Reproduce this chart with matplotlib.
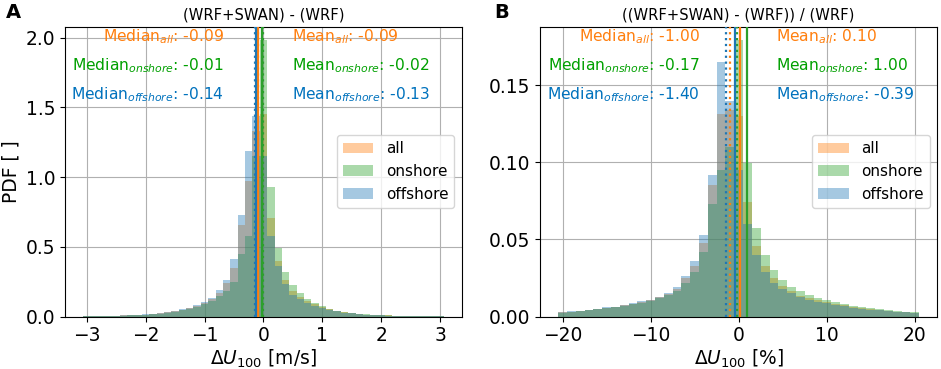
import numpy as np
import matplotlib
matplotlib.use("Agg")
import matplotlib.pyplot as plt

# ---------------- data ----------------
# Panel A: absolute difference, bins centred on multiples of 0.125 m/s
a_width = 0.125
a_centers = np.arange(-24, 25) * a_width
a_offshore = [0.002, 0.003, 0.004, 0.005, 0.006, 0.008, 0.010, 0.013,
              0.016, 0.021, 0.026, 0.033, 0.040, 0.052, 0.065, 0.080,
              0.105, 0.135, 0.190, 0.260, 0.410, 0.730, 1.190, 1.440,
              1.150,
              0.575, 0.360, 0.235, 0.156, 0.127, 0.096, 0.079, 0.064,
              0.048, 0.038, 0.029, 0.023, 0.018, 0.014, 0.011, 0.009,
              0.007, 0.005, 0.004, 0.003, 0.0025, 0.002, 0.0015, 0.001]
a_all = [0.002, 0.003, 0.004, 0.005, 0.006, 0.008, 0.010, 0.012,
         0.015, 0.020, 0.025, 0.031, 0.038, 0.049, 0.062, 0.076,
         0.100, 0.125, 0.170, 0.240, 0.350, 0.660, 0.970, 1.330,
         1.450,
         0.710, 0.395, 0.265, 0.180, 0.143, 0.110, 0.088, 0.070,
         0.052, 0.041, 0.031, 0.025, 0.020, 0.015, 0.012, 0.010,
         0.008, 0.006, 0.0045, 0.0035, 0.0028, 0.002, 0.0015, 0.001]
a_onshore = [0.002, 0.0025, 0.0035, 0.0045, 0.005, 0.007, 0.009, 0.011,
             0.014, 0.018, 0.022, 0.028, 0.034, 0.044, 0.055, 0.068,
             0.090, 0.115, 0.145, 0.180, 0.250, 0.450, 0.575, 1.150,
             1.980,
             0.930, 0.490, 0.320, 0.228, 0.172, 0.125, 0.096, 0.075,
             0.055, 0.043, 0.033, 0.026, 0.021, 0.016, 0.012, 0.010,
             0.008, 0.006, 0.005, 0.004, 0.003, 0.0022, 0.0016, 0.001]

# Panel B: relative difference, bins centred on integer percent
b_width = 1.0
b_centers = np.arange(-20, 21) * b_width
b_offshore = [0.0028, 0.0035, 0.0039, 0.0046, 0.0052, 0.0059, 0.0065, 0.0076,
              0.0087, 0.0098, 0.0110, 0.0130, 0.0156, 0.0195, 0.0265, 0.0360,
              0.0530, 0.0920, 0.1650, 0.1400,
              0.0950,
              0.0600, 0.0400, 0.0290, 0.0220, 0.0180, 0.0150, 0.0125, 0.0110,
              0.0095, 0.0085, 0.0075, 0.0066, 0.0058, 0.0050, 0.0045, 0.0040,
              0.0035, 0.0030, 0.0027, 0.0024]
b_all = [0.0027, 0.0033, 0.0037, 0.0044, 0.0050, 0.0056, 0.0062, 0.0072,
         0.0083, 0.0093, 0.0105, 0.0124, 0.0148, 0.0178, 0.0250, 0.0330,
         0.0480, 0.0850, 0.1310, 0.1340,
         0.1300,
         0.0740, 0.0456, 0.0330, 0.0250, 0.0200, 0.0165, 0.0135, 0.0120,
         0.0105, 0.0093, 0.0082, 0.0072, 0.0063, 0.0055, 0.0049, 0.0043,
         0.0038, 0.0033, 0.0029, 0.0026]
b_onshore = [0.0026, 0.0032, 0.0036, 0.0042, 0.0048, 0.0054, 0.0060, 0.0069,
             0.0080, 0.0090, 0.0100, 0.0118, 0.0140, 0.0165, 0.0220, 0.0290,
             0.0420, 0.0730, 0.0950, 0.1100,
             0.1790,
             0.0995, 0.0576, 0.0400, 0.0304, 0.0240, 0.0190, 0.0165, 0.0140,
             0.0120, 0.0105, 0.0092, 0.0080, 0.0070, 0.0062, 0.0055, 0.0048,
             0.0042, 0.0037, 0.0032, 0.0028]

# summary statistics
a_median = {"all": -0.09, "onshore": -0.01, "offshore": -0.14}
a_mean = {"all": -0.09, "onshore": -0.02, "offshore": -0.13}
b_median = {"all": -1.00, "onshore": -0.17, "offshore": -1.40}
b_mean = {"all": 0.10, "onshore": 1.00, "offshore": -0.39}

series_names = ["all", "onshore", "offshore"]
colors = {"all": "#ff7f0e", "onshore": "#2ca02c", "offshore": "#1f77b4"}
text_colors = {"all": "#ff7f0e", "onshore": "#00a000", "offshore": "#0072bd"}

# ---------------- figure ----------------
fig = plt.figure(figsize=(9.41, 3.69), dpi=100)
axA = fig.add_axes([0.069, 0.142, 0.422, 0.786])
axB = fig.add_axes([0.574, 0.142, 0.422, 0.786])


def draw(ax, centers, width, data, med, mean, title, xlabel, xticks, yticks,
         yfmt, left_x, right_x):
    for name in series_names:
        ax.bar(centers, data[name], width=width, color=colors[name],
               alpha=0.4, label=name, zorder=2)
    for name in series_names:
        ax.axvline(med[name], color=colors[name], ls=":", lw=1.6, zorder=3)
        ax.axvline(mean[name], color=colors[name], ls="-", lw=1.6, zorder=3)
    ax.set_ylim(bottom=0)
    ax.grid(True, color="#b0b0b0", lw=0.8)
    ax.set_axisbelow(True)
    ax.set_title(title, fontsize=10.6, pad=5)
    ax.set_xlabel(xlabel, fontsize=13.4, labelpad=2)
    ax.set_xticks(xticks)
    ax.set_yticks(yticks)
    ax.set_yticklabels([yfmt % v for v in yticks])
    ax.tick_params(labelsize=13.4)
    ys = [0.95, 0.848, 0.75]
    for y, name in zip(ys, series_names):
        ax.text(left_x, y, "Median$_{%s}$: %.2f" % (name, med[name]),
                transform=ax.transAxes, ha="right", va="baseline",
                color=text_colors[name], fontsize=11.2)
        ax.text(right_x, y, "Mean$_{%s}$: %.2f" % (name, mean[name]),
                transform=ax.transAxes, ha="left", va="baseline",
                color=text_colors[name], fontsize=11.2)
    ax.legend(loc="center right", fontsize=11, framealpha=0.8)


draw(axA, a_centers, a_width,
     {"all": a_all, "onshore": a_onshore, "offshore": a_offshore},
     a_median, a_mean, "(WRF+SWAN) - (WRF)", r"$\Delta U_{100}$ [m/s]",
     [-3, -2, -1, 0, 1, 2, 3], [0.0, 0.5, 1.0, 1.5, 2.0], "%.1f",
     0.40, 0.571)
axA.set_ylabel("PDF [ ]", fontsize=13.4, labelpad=4)

draw(axB, b_centers, b_width,
     {"all": b_all, "onshore": b_onshore, "offshore": b_offshore},
     b_median, b_mean, "((WRF+SWAN) - (WRF)) / (WRF)", r"$\Delta U_{100}$ [%]",
     [-20, -10, 0, 10, 20], [0.0, 0.05, 0.10, 0.15], "%.2f",
     0.403, 0.594)

fig.text(0.006, 0.952, "A", fontsize=14, fontweight="bold")
fig.text(0.525, 0.952, "B", fontsize=14, fontweight="bold")

fig.savefig("out.png", dpi=100)
